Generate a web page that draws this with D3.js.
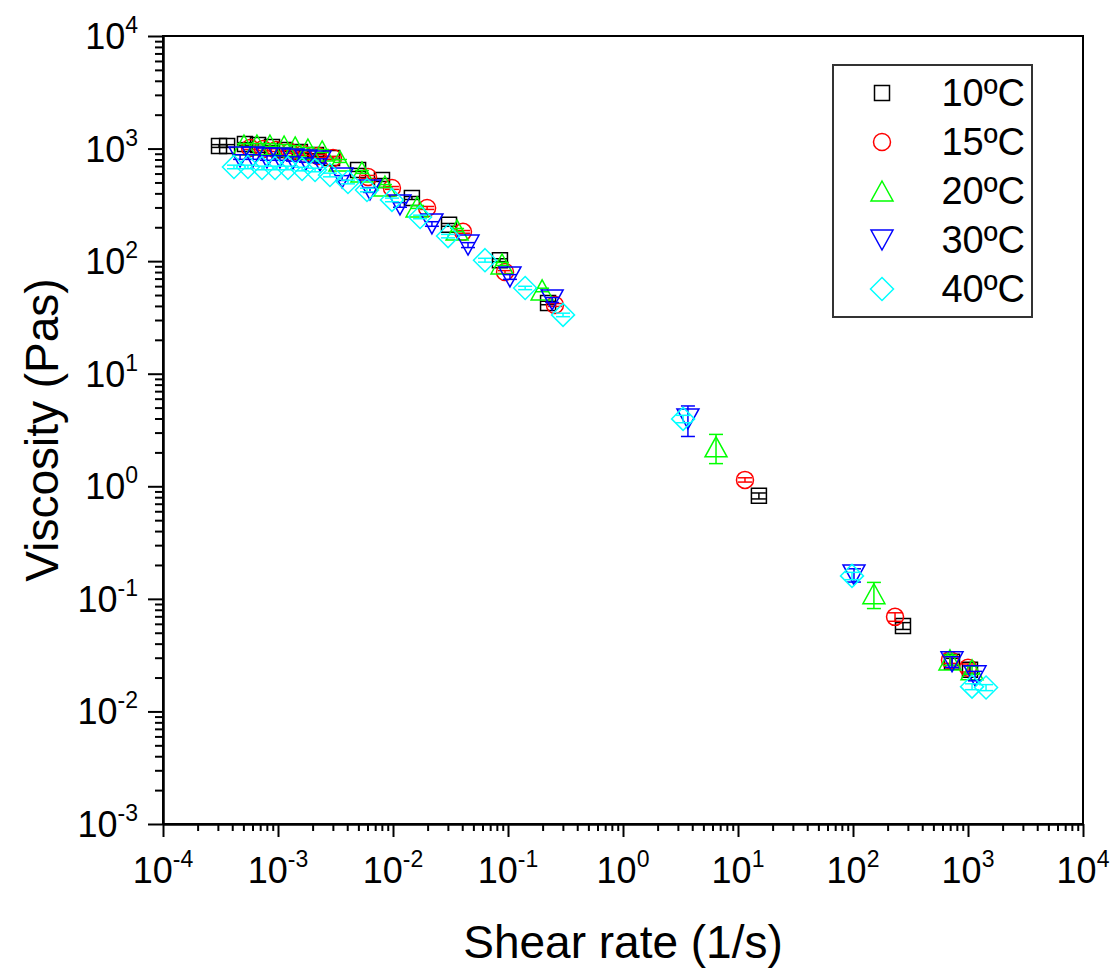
<!DOCTYPE html>
<html>
<head>
<meta charset="utf-8">
<script src="https://cdnjs.cloudflare.com/ajax/libs/d3/7.8.5/d3.min.js"></script>
<style>
  body { margin: 0; background: #fff; }
  text { font-family: "Liberation Sans", Arial, sans-serif; fill: #000; }
</style>
</head>
<body>
<div id="chart"></div>
<script>

// shear rate (1/s), viscosity (Pa s), error (Pa s)
const rate10 = [3.07e-4, 3.61e-4, 5.16e-4, 6.70e-4, 8.87e-4, 1.15e-3, 1.55e-3, 2.14e-3, 2.95e-3, 4.97e-3, 8.02e-3, 0.0146, 0.0307, 0.0851, 0.223, 15.2, 272, 726, 1040]
const visc10 = [1054, 1054, 1099, 1076, 1033, 972, 933, 877, 825, 646, 526, 364, 210, 102, 42.5, 0.822, 0.0575, 0.0276, 0.0234]
const err10  = [30, 30, 30, 30, 30, 28, 26, 25, 24, 20, 16, 11, 6, 3, 1.5, 0.05, 0.004, 0.002, 0.002]

const rate15 = [5.71e-4, 7.41e-4, 9.61e-4, 1.27e-3, 1.65e-3, 2.23e-3, 3.01e-3, 6.07e-3, 9.79e-3, 0.0198, 0.0406, 0.0942, 0.256, 11.5, 232, 697, 1000]
const visc15 = [1012, 991, 972, 933, 896, 860, 825, 560, 447, 297, 182, 80, 40.8, 1.14, 0.0692, 0.0287, 0.0244]
const err15  = [30, 30, 30, 28, 27, 26, 25, 17, 13, 9, 5, 2.4, 1.2, 0.05, 0.006, 0.002, 0.002]

const rate20 = [5.06e-4, 6.56e-4, 8.51e-4, 1.13e-3, 1.41e-3, 1.82e-3, 2.42e-3, 3.46e-3, 5.37e-3, 8.51e-3, 0.0162, 0.0361, 0.0887, 0.198, 6.44, 152, 697, 1084]
const visc20 = [1076, 1076, 1076, 1054, 1033, 991, 952, 776, 620, 465, 303, 189, 94.4, 55.5, 2.24, 0.111, 0.0287, 0.0234]
const err20  = [32, 32, 31, 31, 30, 29, 28, 23, 18, 14, 9, 6, 3, 2, 0.65, 0.029, 0.003, 0.002]

const rate30 = [4.68e-4, 6.07e-4, 8.02e-4, 1.04e-3, 1.35e-3, 1.75e-3, 2.32e-3, 3.61e-3, 6.31e-3, 0.0115, 0.0218, 0.0449, 0.104, 0.242, 3.67, 102, 726, 1151]
const visc30 = [842, 842, 825, 825, 809, 792, 776, 548, 429, 316, 214, 139, 72.4, 45.2, 3.97, 0.163, 0.0276, 0.0207]
const err30  = [40, 40, 38, 38, 36, 35, 35, 27, 21, 15, 10, 7, 3.5, 2.3, 1.2, 0.022, 0.003, 0.002]

const rate40 = [4.14e-4, 5.48e-4, 7.26e-4, 9.42e-4, 1.22e-3, 1.62e-3, 2.10e-3, 2.83e-3, 4.06e-3, 5.94e-3, 9.79e-3, 0.0172, 0.0301, 0.0631, 0.141, 0.301, 3.33, 98, 1084, 1435]
const visc40 = [687, 687, 673, 673, 673, 658, 646, 583, 505, 429, 350, 247, 167, 102, 57.8, 33.3, 3.97, 0.160, 0.0166, 0.0163]
const err40  = [25, 25, 25, 25, 25, 24, 24, 22, 19, 16, 13, 9, 6, 4, 2, 1.2, 0.3, 0.012, 0.001, 0.001]

const seriesNames = ["10ºC", "15ºC", "20ºC", "30ºC", "40ºC"]
const seriesColors = ["#000000", "#ff0000", "#00ff00", "#0000ff", "#00ffff"]
const seriesShapes = ["square", "circle", "up", "down", "diamond"]

const xTicks = [1e-4, 1e-3, 1e-2, 1e-1, 1e0, 1e1, 1e2, 1e3, 1e4]
const yTicks = [1e-3, 1e-2, 1e-1, 1e0, 1e1, 1e2, 1e3, 1e4]

const series = [
	{rate: rate10, visc: visc10, err: err10},
	{rate: rate15, visc: visc15, err: err15},
	{rate: rate20, visc: visc20, err: err20},
	{rate: rate30, visc: visc30, err: err30},
	{rate: rate40, visc: visc40, err: err40}
]

var width = 1118
var height = 969
var plotL = 163, plotR = 1083, plotT = 36, plotB = 824

var svg = d3.select("#chart").append("svg")
	.attr("width", width)
	.attr("height", height)

var x = d3.scaleLog().domain([1e-4, 1e4]).range([plotL, plotR])
var y = d3.scaleLog().domain([1e-3, 1e4]).range([plotB, plotT])

// minor ticks 2..9 in each decade
function minors(ticks) {
	var out = []
	for (var i = 0; i < ticks.length - 1; i++) {
		for (var k = 2; k <= 9; k++) out.push(ticks[i] * k)
	}
	return out
}

function shapePath(shape) {
	if (shape == "square") return "M-7.5,-7.5H7.5V7.5H-7.5Z"
	if (shape == "circle") return "M8.5,0A8.5,8.5 0 1,1 -8.5,0A8.5,8.5 0 1,1 8.5,0Z"
	if (shape == "up") return "M0,-10L11,10L-11,10Z"
	if (shape == "down") return "M0,10L11,-10L-11,-10Z"
	return "M0,-11.5L11.5,0L0,11.5L-11.5,0Z"
}

// axes
var xMinor = d3.axisBottom(x).tickValues(minors(xTicks)).tickSize(7).tickSizeOuter(0).tickFormat("")
var xMajor = d3.axisBottom(x).tickValues(xTicks).tickSize(13).tickSizeOuter(0).tickFormat("")
var yMinor = d3.axisLeft(y).tickValues(minors(yTicks)).tickSize(8).tickSizeOuter(0).tickFormat("")
var yMajor = d3.axisLeft(y).tickValues(yTicks).tickSize(15).tickSizeOuter(0).tickFormat("")

svg.append("g").attr("transform", `translate(0,${plotB})`).call(xMinor)
svg.append("g").attr("transform", `translate(0,${plotB})`).call(xMajor)
svg.append("g").attr("transform", `translate(${plotL},0)`).call(yMinor)
svg.append("g").attr("transform", `translate(${plotL},0)`).call(yMajor)

svg.selectAll(".tick line").attr("stroke", "#000").attr("stroke-width", 2)
svg.selectAll(".domain").attr("stroke", "#000").attr("stroke-width", 2)

svg.append("rect")
	.attr("x", plotL)
	.attr("y", plotT)
	.attr("width", plotR - plotL)
	.attr("height", plotB - plotT)
	.attr("fill", "none")
	.attr("stroke", "#000")
	.attr("stroke-width", 2)

// tick labels: 10 with superscript exponent
var xl = svg.append("g").selectAll("text")
	.data(xTicks)
	.enter().append("text")
	.attr("x", d => x(d))
	.attr("y", 883)
	.attr("text-anchor", "middle")
	.style("font-size", "36px")
xl.append("tspan").text("10")
xl.append("tspan").attr("dy", -16).style("font-size", "23px").text(d => Math.round(Math.log10(d)))

var yl = svg.append("g").selectAll("text")
	.data(yTicks)
	.enter().append("text")
	.attr("x", 138)
	.attr("y", d => y(d) + 13)
	.attr("text-anchor", "end")
	.style("font-size", "36px")
yl.append("tspan").text("10")
yl.append("tspan").attr("dy", -16).style("font-size", "23px").text(d => Math.round(Math.log10(d)))

// axis titles
svg.append("text")
	.attr("x", (plotL + plotR) / 2)
	.attr("y", 958)
	.attr("text-anchor", "middle")
	.style("font-size", "46px")
	.text("Shear rate (1/s)")

svg.append("text")
	.attr("transform", `translate(58,${(plotT + plotB) / 2}) rotate(-90)`)
	.attr("text-anchor", "middle")
	.style("font-size", "46px")
	.text("Viscosity (Pas)")

// data: error bars then symbols, series in order so 40ºC sits on top
var plot = svg.append("g")

series.forEach(function(s, i) {
	var pts = s.rate.map((r, j) => ({r: r, v: s.visc[j], e: s.err[j]}))
	var col = seriesColors[i]
	var g = plot.append("g")

	var eb = g.selectAll(".err")
		.data(pts)
		.enter().append("g")
		.attr("class", "err")
		.attr("stroke", col)
		.attr("stroke-width", 1.5)

	eb.append("line")
		.attr("x1", d => x(d.r)).attr("x2", d => x(d.r))
		.attr("y1", d => y(d.v + d.e)).attr("y2", d => y(Math.max(d.v - d.e, 1e-4)))
	eb.append("line")
		.attr("x1", d => x(d.r) - 7).attr("x2", d => x(d.r) + 7)
		.attr("y1", d => y(d.v + d.e)).attr("y2", d => y(d.v + d.e))
	eb.append("line")
		.attr("x1", d => x(d.r) - 7).attr("x2", d => x(d.r) + 7)
		.attr("y1", d => y(Math.max(d.v - d.e, 1e-4))).attr("y2", d => y(Math.max(d.v - d.e, 1e-4)))

	g.selectAll(".sym")
		.data(pts)
		.enter().append("path")
		.attr("class", "sym")
		.attr("d", shapePath(seriesShapes[i]))
		.attr("transform", d => `translate(${x(d.r)},${y(d.v)})`)
		.attr("fill", "none")
		.attr("stroke", col)
		.attr("stroke-width", 1.5)
})

// legend
var legend = svg.append("g")

legend.append("rect")
	.attr("x", 833)
	.attr("y", 65)
	.attr("width", 199)
	.attr("height", 252)
	.attr("fill", "#fff")
	.attr("stroke", "#333")
	.attr("stroke-width", 2)

seriesNames.forEach(function(name, i) {
	var cy = 93 + i * 49
	legend.append("path")
		.attr("d", shapePath(seriesShapes[i]))
		.attr("transform", `translate(882,${cy})`)
		.attr("fill", "none")
		.attr("stroke", seriesColors[i])
		.attr("stroke-width", 1.5)
	legend.append("text")
		.attr("x", 1025)
		.attr("y", cy + 13)
		.attr("text-anchor", "end")
		.style("font-size", "38px")
		.text(name)
})

</script>
</body>
</html>
